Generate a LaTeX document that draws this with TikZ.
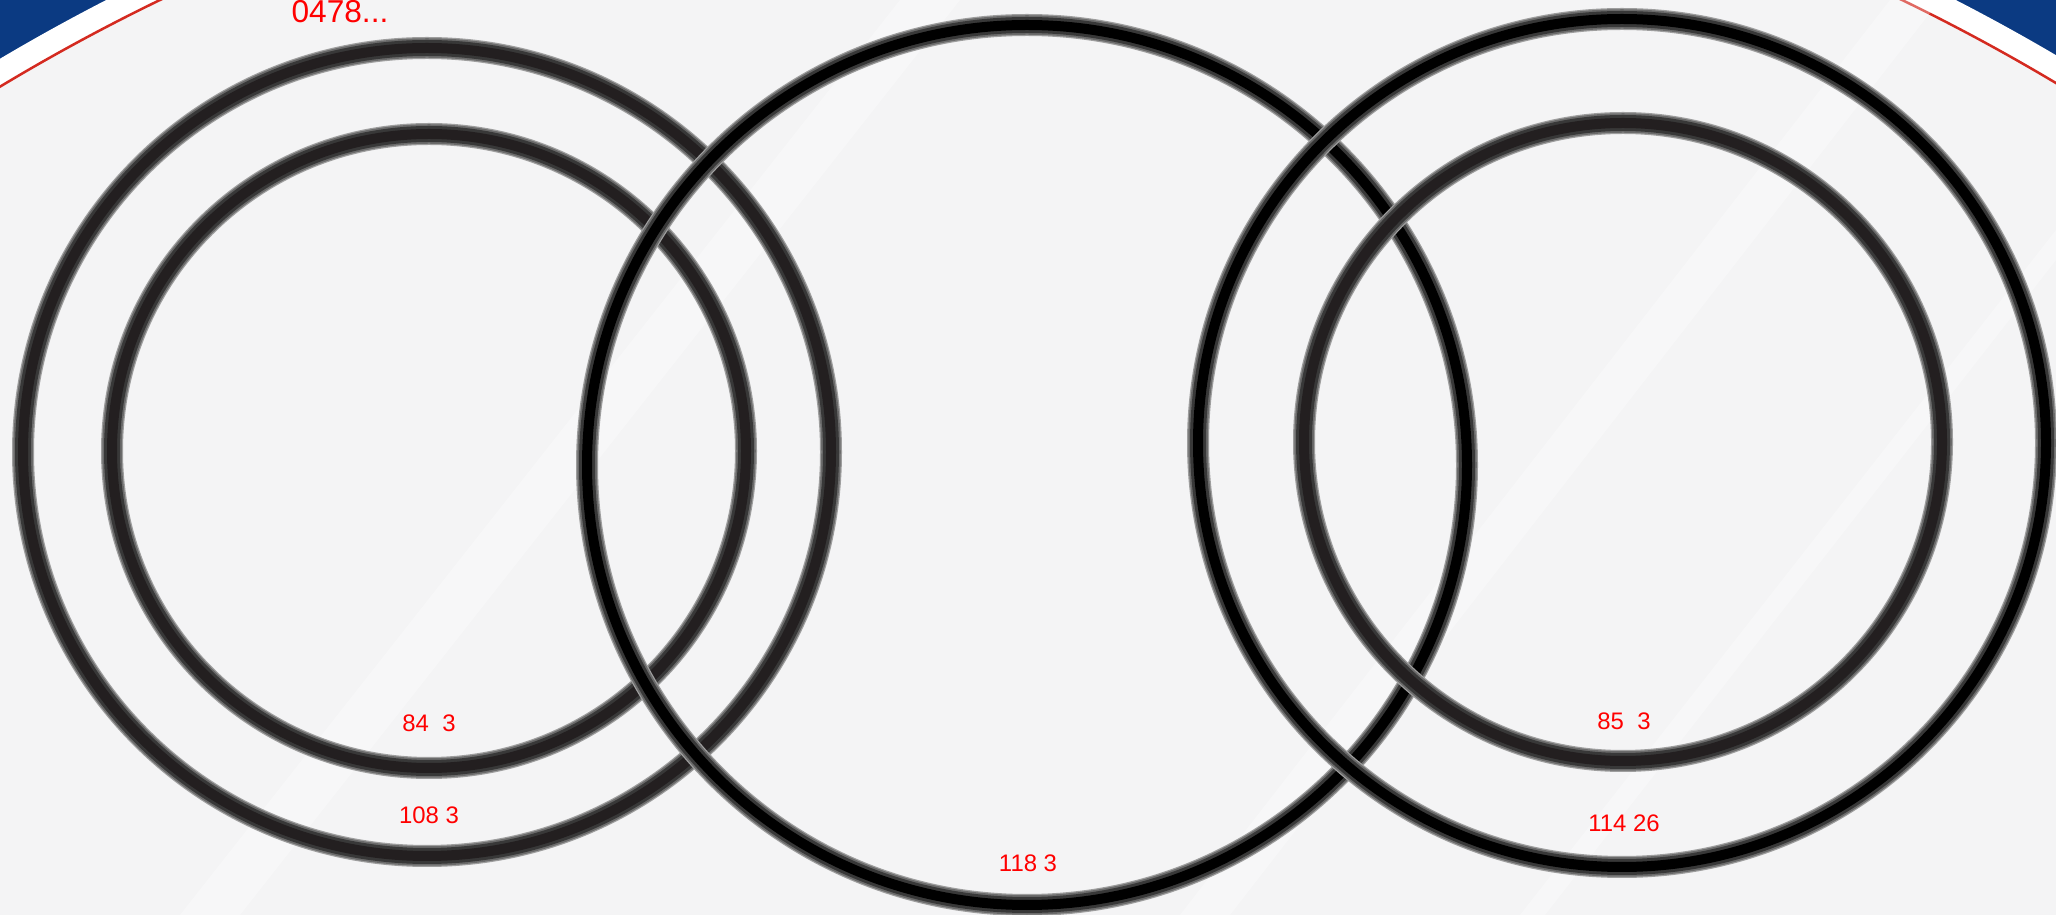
\documentclass[tikz,border=0pt]{standalone}
\usepackage{fontspec}
\setmainfont{Liberation Sans}
\usetikzlibrary{positioning}

\definecolor{deepblue}{HTML}{0B3A82}
\definecolor{paper}{HTML}{F4F4F5}
\definecolor{rimred}{HTML}{D42A20}
\definecolor{tubegray}{HTML}{231F20}

% one shaded ring: centre x, centre y, radius, core colour
\newcommand{\tubering}[4]{%
  \draw[ringedge] (#1,#2) circle [radius=#3];
  \draw[ringouter] (#1,#2) circle [radius=#3];
  \draw[ringmid]  (#1,#2) circle [radius=#3];
  \draw[ringcore, draw=#4] (#1,#2) circle [radius=#3];
}

\begin{document}
\begin{tikzpicture}[
    x=0.1mm, y=-0.1mm,
    ringedge/.style={draw=black!38, line width=2.2mm},
    ringouter/.style={draw=black!58, line width=1.95mm},
    ringmid/.style={draw=black!78, line width=1.6mm},
    ringcore/.style={line width=1.0mm},
    lbl/.style={text=red, inner sep=0pt, font=\fontsize{6.8}{8}\selectfont},
    streak/.style={fill=white, opacity=0.3}
]
  \useasboundingbox (0,0) rectangle (2056,915);
  \clip (0,0) rectangle (2056,915);

  % background
  \fill[deepblue] (0,0) rectangle (2056,915);
  \fill[white] (1031,1802) circle [radius=2025];
  \fill[paper] (1031,1802) circle [radius=2001];
  \draw[rimred, line width=0.25mm] (1031,1802) circle [radius=2001];
  \fill[streak] (180,915) -- (240,915) -- (960,0) -- (900,0) -- cycle;
  \fill[streak] (1180,915) -- (1230,915) -- (1940,0) -- (1890,0) -- cycle;
  \fill[streak] (1520,915) -- (1545,915) -- (2056,260) -- (2056,230) -- cycle;

  % rings
  \tubering{427}{452}{404}{tubegray}
  \tubering{429}{451}{317}{tubegray}
  \tubering{1027}{465}{440}{black}
  \tubering{1622}{443}{424}{black}
  \tubering{1623}{442}{319}{tubegray}

  % labels
  \node[lbl, font=\fontsize{9}{10}\selectfont, anchor=base] (top) at (340,23) {0478...};
  \node[lbl] (lin) at (429,723) {84\ \ 3};
  \node[lbl] (lout) at (429,815) {108 3};
  \node[lbl] (mid) at (1028,863) {118 3};
  \node[lbl] (rin) at (1624,721) {85\ \ 3};
  \node[lbl] (rout) at (1624,823) {114 26};
\end{tikzpicture}
\end{document}
